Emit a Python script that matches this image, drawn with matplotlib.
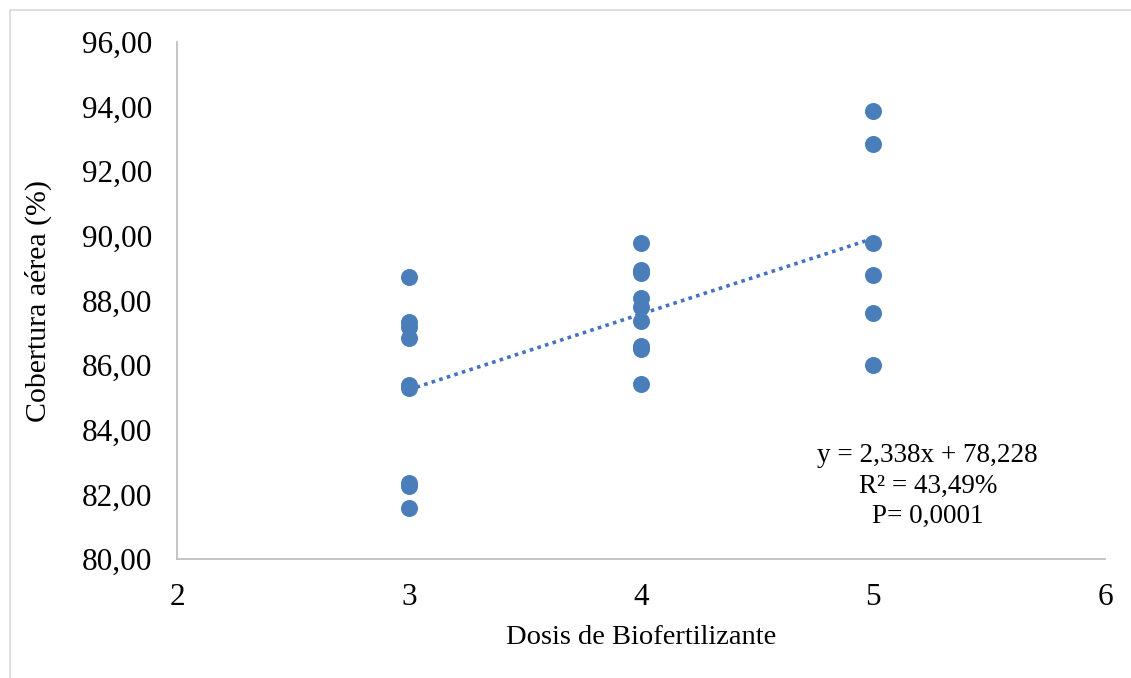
import matplotlib
matplotlib.use("Agg")
import matplotlib.pyplot as plt
from matplotlib.patches import Rectangle
import numpy as np

plt.rcParams['font.family'] = ['Liberation Serif', 'DejaVu Serif']

dose = [3, 3, 3, 3, 3, 3, 3, 3, 3,
        4, 4, 4, 4, 4, 4, 4, 4, 4,
        5, 5, 5, 5, 5, 5]
cover = [88.72, 87.34, 87.19, 86.85, 85.38, 85.29, 82.35, 82.26, 81.57,
         89.77, 88.95, 88.85, 88.07, 87.79, 87.37, 86.60, 86.50, 85.42,
         93.87, 92.84, 89.77, 88.79, 87.62, 86.00]
slope = 2.338
intercept = 78.228
trend_x = [3, 5]
x_ticks = [2, 3, 4, 5, 6]
y_ticks = [80, 82, 84, 86, 88, 90, 92, 94, 96]

W, H = 1131, 678
fig = plt.figure(figsize=(W / 100, H / 100), dpi=100)
ax = fig.add_axes([177 / W, 1 - 559 / H, (1105 - 177) / W, (559 - 42) / H])

# outer chart border
fig.patches.append(Rectangle((10 / W, -0.01), 1.1, 1 - 10 / H + 0.01, transform=fig.transFigure,
                             fill=False, edgecolor='#D9D9D9', linewidth=1.2))

col = '#4A7EBB'
ax.scatter(dose, cover, s=150, color=col, zorder=3, linewidths=0)
tx = np.array(trend_x, dtype=float)
ax.plot(tx, slope * tx + intercept, linestyle=(0, (1, 1.2)), color='#4472C4', linewidth=2.6, zorder=2)

ax.set_xlim(2, 6)
ax.set_ylim(80, 96)
ax.set_xticks(x_ticks)
ax.set_yticks(y_ticks)
ax.set_xticklabels([str(v) for v in x_ticks])
ax.set_yticklabels([f"{v:.2f}".replace('.', ',') for v in y_ticks])
ax.tick_params(length=0, labelsize=22.5, colors='black')
ax.tick_params(axis='x', pad=17)
ax.tick_params(axis='y', pad=18)
for s in ['top', 'right']:
    ax.spines[s].set_visible(False)
for s in ['left', 'bottom']:
    ax.spines[s].set_color('#BFBFBF')
    ax.spines[s].set_linewidth(1.3)

ax.set_xlabel('Dosis de Biofertilizante', fontsize=20.5, labelpad=10)
ax.set_ylabel('Cobertura aérea (%)', fontsize=21.5, labelpad=21)

ax.text(0.809, 0.141, 'y = 2,338x + 78,228\nR² = 43,49%\nP= 0,0001', transform=ax.transAxes,
        ha='center', va='center', fontsize=19.5, linespacing=1.3, multialignment='center')

fig.savefig('out.png', dpi=100)
